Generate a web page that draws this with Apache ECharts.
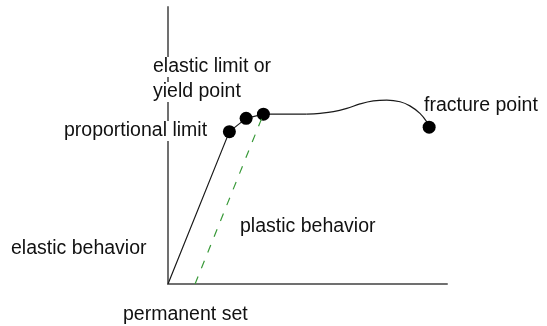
<!DOCTYPE html>
<html>
<head>
    <meta charset="UTF-8">
    <title>stress strain</title>
    <script src="https://cdn.jsdelivr.net/npm/echarts@6/dist/echarts.min.js"></script>
    <style>
        html, body { margin: 0; padding: 0; background: #fff; }
        #main { width: 547px; height: 326px; }
    </style>
</head>
<body>
<div id="main"></div>
<script type="text/javascript">
    // strain / stress in arbitrary units (0..100)
    var elasticPath = [[0, 0], [22.0, 55.0], [28.0, 59.8], [34.2, 61.3], [49.7, 61.3]];
    var plasticCurve = [[49.7, 61.3], [54.5, 61.6], [59.3, 62.2], [64.1, 63.4], [68.8, 65.0],
        [73.6, 66.1], [78.4, 66.4], [83.2, 65.8], [86.7, 64.3], [90.3, 61.6], [92.7, 58.6], [93.6, 56.6]];
    var unloadLine = [[9.7, 0], [34.2, 61.3]];
    var keyPoints = [[22.0, 55.0], [28.0, 59.8], [34.2, 61.3], [93.6, 56.6]];
    var notes = ['elastic limit or', 'yield point', 'proportional limit', 'fracture point',
        'plastic behavior', 'elastic behavior', 'permanent set'];

    var myChart = echarts.init(document.getElementById('main'));

    var font = '"Liberation Sans", Arial, sans-serif';
    function note(txt, x, y) {
        return {
            type: 'text',
            x: x,
            y: y,
            z: 100,
            style: {
                text: txt,
                fill: '#111',
                font: '19.5px ' + font,
                textVerticalAlign: 'middle',
                backgroundColor: '#fff'
            }
        };
    }

    var option = {
        backgroundColor: '#ffffff',
        animation: false,
        grid: { left: 168, top: 7, right: 100, bottom: 42 },
        xAxis: {
            type: 'value', min: 0, max: 100,
            axisLine: { show: true, lineStyle: { color: '#707070', width: 2 } },
            axisTick: { show: false }, axisLabel: { show: false }, splitLine: { show: false }
        },
        yAxis: {
            type: 'value', min: 0, max: 100,
            axisLine: { show: true, lineStyle: { color: '#707070', width: 2 } },
            axisTick: { show: false }, axisLabel: { show: false }, splitLine: { show: false }
        },
        series: [
            {
                type: 'line', data: elasticPath, symbol: 'none',
                lineStyle: { color: '#1a1a1a', width: 1.2 }
            },
            {
                type: 'line', data: plasticCurve, symbol: 'none', smooth: 0.4,
                lineStyle: { color: '#1a1a1a', width: 1.2 }
            },
            {
                type: 'scatter', data: keyPoints, symbolSize: 13,
                itemStyle: { color: '#000', opacity: 1 }, z: 5
            },
            {
                type: 'line', data: unloadLine, symbol: 'none', z: 6,
                lineStyle: { color: '#3a9a3a', width: 1.2, type: [8, 9] }
            }
        ],
        graphic: [
            note(notes[0], 153, 67),
            note(notes[1], 153, 92),
            note(notes[2], 64, 131),
            note(notes[3], 424, 106),
            note(notes[4], 240, 227),
            note(notes[5], 11, 249),
            note(notes[6], 123, 315)
        ]
    };

    myChart.setOption(option);
</script>
</body>
</html>
